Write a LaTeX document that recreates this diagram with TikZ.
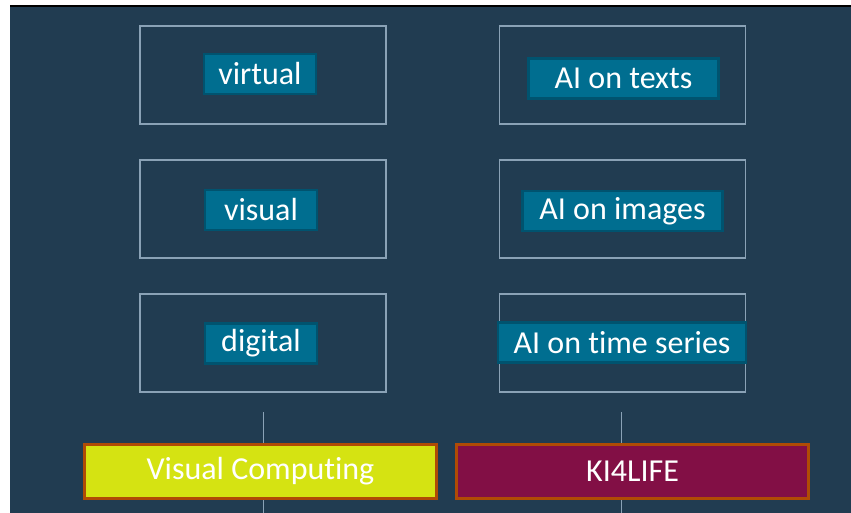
\documentclass[tikz,border=0pt]{standalone}
\usepackage{fontspec}
\setmainfont{Carlito}[Ligatures=NoCommon]
\definecolor{bg}{HTML}{213C51}
\definecolor{frm}{HTML}{8AA2B6}
\definecolor{teal}{HTML}{006E90}
\definecolor{tealb}{HTML}{00536F}
\definecolor{lime}{HTML}{D5E312}
\definecolor{maroon}{HTML}{820F45}
\definecolor{rust}{HTML}{B04B05}
\begin{document}
\begin{tikzpicture}[x=1pt,y=-1pt,
  frame/.style={draw=frm,line width=1.2pt,minimum width=246pt,minimum height=98pt,inner sep=0pt},
  tag/.style={fill=teal,draw=tealb,line width=2.5pt,text=white,font=\fontsize{32}{34}\selectfont,minimum height=40pt,inner xsep=9pt,inner ysep=0pt},
  big/.style={draw=rust,line width=3pt,text=white,font=\fontsize{32}{34}\selectfont,minimum width=352pt,minimum height=54pt,inner sep=0pt},
  link/.style={draw=frm,line width=1pt}]
\useasboundingbox (0,0) rectangle (851,513);
\fill[white] (0,0) rectangle (851,513);
\fill[bg] (10,6) rectangle (851,513);
\draw[black,line width=1.2pt] (10,6) -- (851,6);
% frames
\node[frame] (f11) at (263,75) {};
\node[frame] (f21) at (263,209) {};
\node[frame] (f31) at (263,343) {};
\node[frame] (f12) at (622.5,75) {};
\node[frame] (f22) at (622.5,209) {};
\node[frame] (f32) at (622.5,343) {};
% tags
\node[tag,minimum width=112pt] (t11) at (260,74) {virtual};
\node[tag,minimum width=112pt] (t21) at (261,210) {visual};
\node[tag,minimum width=112pt] (t31) at (261,343.5) {digital};
\node[tag,minimum width=190pt] (t12) at (623.5,78.5) {AI on texts};
\node[tag,minimum width=200pt] (t22) at (622.5,211) {AI on images};
\node[tag,minimum width=248pt] (t32) at (622,342.5) {AI on time series};
% connectors
\coordinate (a1) at (263,412);
\coordinate (a2) at (263,513);
\coordinate (b1) at (621,412);
\coordinate (b2) at (621,513);
\draw[link] (a1) -- (a2);
\draw[link] (b1) -- (b2);
% bottom boxes
\node[big,fill=lime] (vc) at (260.5,471) {Visual Computing};
\node[big,fill=maroon] (ki) at (632.5,471) {KI4LIFE};
\end{tikzpicture}
\end{document}
